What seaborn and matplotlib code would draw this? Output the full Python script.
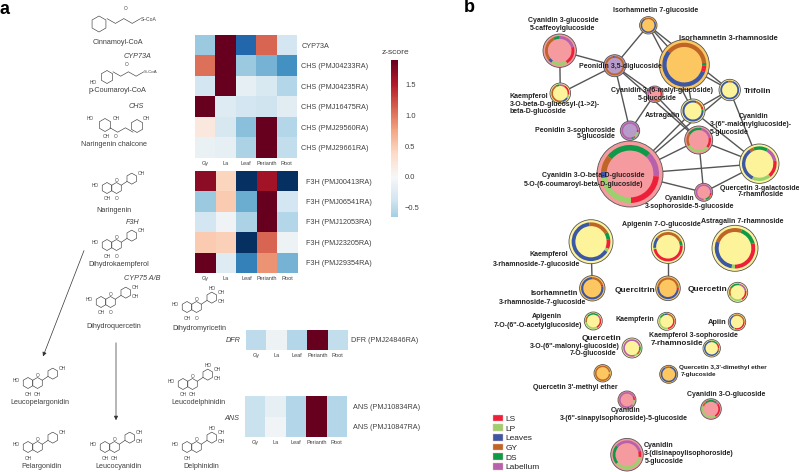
import numpy as np
import pandas as pd
import matplotlib
matplotlib.use('Agg')
import matplotlib.pyplot as plt
from matplotlib.patches import Circle, Polygon, Patch
import seaborn as sns

tissues = ['Gy', 'La', 'Leaf', 'Perianth', 'Root']

rows_top = ['CYP73A', 'CHS (PMJ04233RA)', 'CHS (PMJ04235RA)', 'CHS (PMJ16475RA)', 'CHS (PMJ29560RA)', 'CHS (PMJ29661RA)']
vals_top = [[-0.7, 1.9, -1.5, 1.1, -0.35],
            [1.05, 1.9, -0.7, -0.9, -1.15],
            [-0.35, 1.9, -0.17, -0.3, -0.55],
            [1.9, -0.25, -0.35, -0.4, -0.22],
            [0.2, -0.32, -0.8, 1.9, -0.55],
            [-0.12, -0.17, -0.6, 1.9, -0.47]]

rows_f3h = ['F3H (PMJ00413RA)', 'F3H (PMJ06541RA)', 'F3H (PMJ12053RA)', 'F3H (PMJ23205RA)', 'F3H (PMJ29354RA)']
vals_f3h = [[1.7, 0.42, -1.9, 1.6, -1.9],
            [-0.7, 0.5, -0.95, 1.9, -0.35],
            [-0.35, -0.08, -0.6, 1.9, -0.55],
            [0.5, 0.45, -1.9, 1.1, -0.1],
            [1.9, -0.25, -1.3, 0.85, -0.9]]

rows_dfr = ['DFR (PMJ24846RA)']
vals_dfr = [[-0.5, -0.1, -0.55, 1.9, -0.47]]

rows_ans = ['ANS (PMJ10834RA)', 'ANS (PMJ10847RA)']
vals_ans = [[-0.42, -0.17, -0.55, 1.9, -0.55],
            [-0.42, -0.07, -0.55, 1.9, -0.55]]

# network nodes: id, x, y, radius, fill
node_ids = ['c3g5c', 'iso7g', 'iso3r', 'peo35', 'kae3o', 'malyl', 'trif', 'astr', 'peos', 'malon', 'cbig', 'q3gal', 'csoph',
            'k3r7g', 'api7g', 'ast7r', 'i3r7g', 'qcitr', 'quer', 'apiac', 'kaem', 'apiin', 'q3o6', 'k3s7r', 'q3me', 'q33me',
            'csina', 'c3og', 'cdisi']
node_x = [559.7, 648.3, 684.3, 614.7, 560.3, 654.7, 729.7, 693, 630, 698.7, 630, 759.3, 703.7,
          591, 668, 735, 592.3, 668, 737.7, 593.3, 666.7, 737, 632, 711.7, 602.7, 668.7, 627, 711, 627]
node_y = [50.7, 25.3, 64.7, 65.7, 93.3, 94.3, 90, 111, 130.7, 140, 174, 163.7, 192.3,
          241.7, 246.7, 248.3, 288.3, 288.3, 292.3, 321, 321.3, 322, 348, 348.3, 373.3, 374.3, 400, 409, 454.7]
node_r = [16.7, 8.7, 25, 11, 10.3, 8.3, 10.7, 12, 9.7, 14, 33, 19.7, 9,
          22, 16.7, 23, 12.7, 12.3, 10, 9, 9, 8.7, 10, 8.7, 8.7, 9, 9, 10.3, 16.3]
node_fill = ['pink', 'orange', 'orange', 'purple', 'yellow', 'pink', 'yellow', 'yellow', 'purple', 'pink', 'pink', 'yellow', 'pink',
             'yellow', 'yellow', 'yellow', 'orange', 'orange', 'yellow', 'yellow', 'yellow', 'yellow', 'yellow', 'yellow', 'orange', 'orange',
             'pink', 'pink', 'pink']

# ring start (deg clockwise from top), then tissue shares
ring_start = [232, -30, -50, 0, -30, 45, -10, 20, 85, -60, -51, -35, 95,
              -5, -50, 290, 0, -80, -60, -50, -20, -30, 80, 0, 80, -30, 60, -40, -50]
ring_tissue = [['GY', 'DS', 'Labellum', 'LS', 'LP', 'Leaves'], ['GY', 'Leaves'], ['GY', 'DS', 'LS', 'Leaves'], ['GY', 'Leaves'],
               ['DS', 'Labellum', 'LS', 'LP', 'Leaves', 'GY'], ['LS', 'LP', 'GY', 'Labellum'], ['GY', 'Leaves'], ['GY', 'LS', 'DS', 'Leaves'],
               ['LS', 'LP', 'GY', 'DS', 'Labellum'], ['DS', 'Labellum', 'LS', 'LP', 'GY'], ['DS', 'Labellum', 'LS', 'LP', 'Leaves', 'GY'],
               ['GY', 'DS', 'Labellum', 'LS', 'LP', 'Leaves'], ['LS', 'GY', 'DS', 'LP', 'Labellum'],
               ['GY', 'DS', 'LS', 'LP', 'Leaves'], ['GY', 'DS', 'LS', 'LP', 'Leaves'], ['GY', 'DS', 'LS', 'LP', 'Leaves'], ['GY', 'LS', 'Leaves'],
               ['GY', 'DS', 'LS', 'Leaves'], ['DS', 'Labellum', 'LS', 'LP', 'GY'], ['DS', 'Labellum', 'LS', 'LP', 'GY'], ['Leaves', 'GY', 'LS', 'LP', 'DS'],
               ['GY', 'LS', 'LP', 'Leaves'], ['DS', 'GY', 'LP', 'Labellum'], ['DS', 'LS', 'GY', 'Leaves'], ['LP', 'GY'], ['GY', 'Leaves'],
               ['LS', 'LP', 'Labellum'], ['DS', 'Labellum', 'LS', 'LP', 'GY'], ['Labellum', 'LS', 'LP', 'DS']]
ring_share = [[103, 25, 75, 75, 65, 17], [90, 270], [135, 8, 17, 200], [350, 10],
              [25, 35, 70, 25, 40, 165], [70, 30, 40, 220], [30, 330], [45, 15, 10, 290],
              [15, 40, 15, 15, 275], [75, 65, 50, 110, 60], [95, 51, 83, 84, 13, 34],
              [15, 50, 50, 60, 65, 120], [20, 15, 35, 15, 275],
              [65, 22, 30, 10, 233], [115, 20, 175, 5, 45], [90, 55, 105, 10, 100], [70, 10, 280],
              [160, 5, 15, 180], [70, 70, 70, 95, 55], [90, 30, 80, 110, 50], [30, 60, 100, 130, 40],
              [120, 110, 10, 120], [30, 30, 20, 280], [50, 40, 20, 250], [15, 345], [40, 320],
              [30, 40, 290], [80, 15, 95, 140, 30], [125, 25, 130, 80]]

edges = [('c3g5c', 'peo35'), ('c3g5c', 'kae3o'), ('kae3o', 'peo35'), ('peo35', 'iso7g'), ('iso7g', 'iso3r'),
         ('iso7g', 'trif'), ('iso7g', 'astr'), ('peo35', 'malyl'), ('peo35', 'peos'), ('peo35', 'malon'),
         ('iso3r', 'trif'), ('iso3r', 'astr'), ('malyl', 'peos'), ('malyl', 'malon'), ('astr', 'trif'), ('astr', 'cbig'),
         ('trif', 'cbig'), ('astr', 'q3gal'), ('trif', 'q3gal'), ('malon', 'cbig'), ('malon', 'q3gal'), ('malon', 'csoph'),
         ('cbig', 'q3gal'), ('cbig', 'csoph'), ('csoph', 'q3gal'), ('k3r7g', 'i3r7g'), ('api7g', 'qcitr')]

legend_names = ['LS', 'LP', 'Leaves', 'GY', 'DS', 'Labellum']
legend_colors = ['#EE2039', '#9BD16C', '#3D57A7', '#BF6526', '#0E9A48', '#B760AC']
fill_colors = {'pink': '#F59A9E', 'yellow': '#FDF39B', 'orange': '#FCC660', 'purple': '#B79BCB'}

net_labels = [('Isorhamnetin 7-glucoside', 656, 10, 5), ('Cyanidin 3-glucoside', 563, 20, 5), ('5-caffeoylglucoside', 563, 28, 5),
              ('Isorhamnetin 3-rhamnoside', 728, 38.7, 5.45), ('Peonidin 3,5-diglucoside', 620.7, 66, 5),
              ('Cyanidin 3-(6-malyl-glucoside)', 661.7, 90.7, 5), ('5-glucoside', 657, 99, 5),
              ('Kaempferol', 528.7, 96.7, 5), ('3-O-beta-D-glucosyl-(1->2)-', 555, 104, 5), ('beta-D-glucoside', 538, 111.3, 5),
              ('Trifolin', 757.7, 91.3, 5.9), ('Astragalin', 662.3, 115.3, 5.2), ('Cyanidin', 754, 116, 5),
              ("3-(6''-malonylglucoside)-", 750.7, 124.3, 5), ('5-glucoside', 729.3, 132.7, 5),
              ('Peonidin 3-sophoroside', 575.3, 130.3, 5), ('5-glucoside', 596.3, 136.7, 5),
              ('Cyanidin 3-O-beta-D-glucoside', 593, 175.3, 5), ('5-O-(6-coumaroyl-beta-D-glucoside)', 583.7, 184.3, 5),
              ('Quercetin 3-galactoside', 759.3, 188, 5), ('7-rhamnoside', 761, 194.7, 5), ('Cyanidin', 680, 198.7, 5),
              ('3-sophoroside-5-glucoside', 689.3, 207, 5), ('Apigenin 7-O-glucoside', 661, 225, 5), ('Astragalin 7-rhamnoside', 742.3, 221.3, 5),
              ('Kaempferol', 549, 255, 5), ('3-rhamnoside-7-glucoside', 536.7, 264.3, 5), ('Isorhamnetin', 553.7, 293.7, 5.4),
              ('3-rhamnoside-7-glucoside', 542.3, 302.3, 5), ('Quercitrin', 635, 290, 6), ('Quercetin', 707.3, 289.3, 6),
              ('Apigenin', 546.7, 316.7, 5), ("7-O-(6''-O-acetylglucoside)", 538.3, 325.3, 5), ('Kaempferin', 635.3, 319.3, 5),
              ('Apiin', 717, 322, 5.4), ('Quercetin', 602, 338, 6), ("3-O-(6''-malonyl-glucoside)", 575, 346.7, 5), ('7-O-glucoside', 593.3, 353.3, 5),
              ('Kaempferol 3-sophoroside', 693.7, 335.7, 5), ('7-rhamnoside', 677, 343.3, 5.8),
              ("Quercetin 3,3'-dimethyl ether", 722.7, 367.7, 4.6), ('7-glucoside', 698, 374.3, 4.6),
              ("Quercetin 3'-methyl ether", 575.7, 387.7, 5), ('Cyanidin 3-O-glucoside', 725.7, 394.3, 5), ('Cyanidin', 625.7, 410.7, 5),
              ("3-(6''-sinapylsophoroside)-5-glucoside", 624, 418.3, 5), ('Cyanidin', 658.7, 445.7, 5),
              ('3-(disinapoylisophoroside)', 688.3, 453.7, 5), ('5-glucoside', 664.7, 461.3, 5)]

path_labels = [('Cinnamoyl-CoA', 118, 42, False), ('CYP73A', 138, 56, True), ('p-Coumaroyl-CoA', 117, 91, False), ('CHS', 136, 106, True),
               ('Naringenin chalcone', 114, 145, False), ('Naringenin', 114, 211, False), ('F3H', 133, 222, True), ('Dihydrokaempferol', 119, 265, False),
               ('CYP75 A/B', 142, 278, True), ('Dihydroquercetin', 114, 326, False), ('Dihydromyricetin', 199, 328, False), ('DFR', 233, 341, True),
               ('Leucopelargonidin', 40, 403, False), ('Leucodelphinidin', 198, 403, False), ('ANS', 232, 418, True), ('Pelargonidin', 42, 466, False),
               ('Leucocyanidin', 118, 466, False), ('Delphinidin', 201, 467, False)]

# flavonoid skeletons: A-ring x, y, OH count on B ring, C4 label
skel_x = [107, 107, 101, 187, 28, 183, 28, 105, 187]
skel_y = [188, 245, 302, 307, 383, 384, 447, 447, 447]
skel_oh = [1, 1, 2, 3, 1, 3, 1, 2, 3]
skel_c4 = ['O', 'O', 'O', 'O', 'OH', 'OH', '', 'OH', '']

sns.set_theme(style='white')
plt.rcParams['font.family'] = ['Liberation Sans', 'DejaVu Sans']
W, H = 799, 472
INK = '#404040'

fig = plt.figure(figsize=(W / 100, H / 100), dpi=100)
bg = fig.add_axes([0, 0, 1, 1])
bg.set_xlim(0, W)
bg.set_ylim(H, 0)
bg.axis('off')


def hexagon(x, y, r):
    ang = np.radians(np.arange(30, 390, 60))
    bg.add_patch(Polygon(np.c_[x + r * np.cos(ang), y + r * np.sin(ang)], fill=False, ec=INK, lw=0.45))


def small(x, y, s):
    bg.text(x, y, s, fontsize=3.4, color=INK, ha='center', va='center')


def flavonoid(x, y, oh, c4, r=5.5):
    hexagon(x, y, r)
    hexagon(x + 1.73 * r, y, r)
    bx, by = x + 4.5 * r, y - 1.7 * r
    hexagon(bx, by, r)
    bg.plot([x + 2.6 * r, bx - 0.87 * r], [y - 0.5 * r, by + 0.5 * r], color=INK, lw=0.45)
    small(x - 2.2 * r, y - 0.5 * r, 'HO')
    small(x, y + 2 * r, 'OH')
    small(x + 1.73 * r, y - 1.3 * r, 'O')
    if c4:
        small(x + 1.73 * r, y + 2 * r, c4)
    small(bx + 1.7 * r, by - r, 'OH')
    if oh > 1:
        small(bx + 1.8 * r, by + 0.7 * r, 'OH')
    if oh > 2:
        small(bx, by - 1.6 * r, 'HO')


def chain(x, y, n, r):
    # zig-zag side chain going right from a ring
    xs = x + np.arange(n + 1) * r * 1.4
    ys = y + (np.arange(n + 1) % 2 - 0.5) * r * 0.8
    bg.plot(xs, ys, color=INK, lw=0.45)
    return xs[-1], ys[-1]


for x, y, oh, c4 in zip(skel_x, skel_y, skel_oh, skel_c4):
    flavonoid(x, y, oh, c4)

# CoA esters and chalcone
hexagon(99, 24, 8)
ex, ey = chain(107, 21, 4, 6)
bg.text(ex + 8, ey + 1, 'S–CoA', fontsize=3.6, color=INK, ha='center', va='center')
small(125.5, 9, 'O')
hexagon(107, 77, 6.5)
ex, ey = chain(113, 74, 4, 5.5)
bg.text(ex + 7, ey, 'S–CoA', fontsize=3.2, color=INK, ha='center', va='center')
small(93, 82, 'HO')
small(127, 65, 'O')
hexagon(105, 125, 6.5)
hexagon(137, 126, 6.5)
chain(110, 130, 3, 5.5)
for tx, ty, s in [(90, 119, 'HO'), (116, 119, 'OH'), (106, 137, 'OH'), (116, 137, 'O'), (146, 119, 'OH')]:
    small(tx, ty, s)

for s, x, y, ital in path_labels:
    bg.text(x, y, s, fontsize=5.2, color=INK, ha='center', va='center', style='italic' if ital else 'normal')

for x0, y0, x1, y1 in [(85, 248, 42, 359), (116, 340, 116, 423)]:
    bg.annotate('', xy=(x1, y1), xytext=(x0, y0),
                arrowprops=dict(arrowstyle='-|>', color='#333333', lw=0.5, mutation_scale=6))

bg.text(5, 9, 'a', fontsize=13, fontweight='bold', color='black', ha='center', va='center')
bg.text(469, 8, 'b', fontsize=13, fontweight='bold', color='black', ha='center', va='center')

# network
pos = {k: (x, y) for k, x, y in zip(node_ids, node_x, node_y)}
for a, b in edges:
    bg.plot([pos[a][0], pos[b][0]], [pos[a][1], pos[b][1]], color='#555555', lw=1.0, zorder=1)

colour_of = dict(zip(legend_names, legend_colors))
for x, y, r, fill, start, cats, share in zip(node_x, node_y, node_r, node_fill, ring_start, ring_tissue, ring_share):
    bg.add_patch(Circle((x, y), r, fc=fill_colors[fill], ec='#555555', lw=0.6, zorder=2))
    wedges, _ = bg.pie(share, colors=[colour_of[c] for c in cats], center=(x, y), radius=0.88 * r,
                       startangle=start - 90, frame=True, wedgeprops=dict(width=max(1.4, 0.17 * r), lw=0))
    for w in wedges:
        w.set_zorder(3)
bg.set_xlim(0, W)
bg.set_ylim(H, 0)

for s, x, y, size in net_labels:
    bg.text(x, y, s, fontsize=size, fontweight='bold', color='#222222', ha='center', va='center', zorder=5)

bg.legend(handles=[Patch(fc=c, ec='#F2B6B6', lw=0.3) for c in legend_colors], labels=legend_names,
          loc='center left', bbox_to_anchor=(493 / W, 1 - 443 / H), frameon=False, fontsize=6,
          labelspacing=0.18, handlelength=1.2, handleheight=0.85, handletextpad=0.3, borderpad=0, borderaxespad=0,
          labelcolor='#222222')


def heat(vals, rows, box, pad, cbar_ax=None):
    x0, y0, x1, y1 = box
    ax = fig.add_axes([x0 / W, 1 - y1 / H, (x1 - x0) / W, (y1 - y0) / H])
    df = pd.DataFrame(vals, index=rows, columns=tissues)
    sns.heatmap(df, ax=ax, cmap='RdBu_r', vmin=-1.9, vmax=1.9, xticklabels=True, yticklabels=True,
                cbar=cbar_ax is not None, cbar_ax=cbar_ax)
    ax.yaxis.tick_right()
    ax.tick_params(axis='y', length=0, pad=pad, labelsize=5.2, labelrotation=0, labelcolor=INK)
    ax.tick_params(axis='x', length=0, pad=2.5, labelsize=4, labelrotation=0, labelcolor=INK)
    ax.set_xlabel('')
    ax.set_ylabel('')
    return ax


cax = fig.add_axes([391 / W, 1 - 217 / H, 7 / W, 157 / H])
heat(vals_top, rows_top, (195, 35, 297, 158), 3, cbar_ax=cax)
cax.set_ylim(-0.65, 1.9)
cax.set_yticks([-0.5, 0, 0.5, 1.0, 1.5], ['\u22120.5', '0.0', '0.5', '1.0', '1.5'])
cax.tick_params(length=0, labelsize=5.4, pad=5, labelcolor=INK)
for sp in cax.spines.values():
    sp.set_visible(False)
bg.text(395, 53, 'z-score', fontsize=6, color=INK, ha='center', va='center')

heat(vals_f3h, rows_f3h, (195, 171, 298, 273), 5.5)
heat(vals_dfr, rows_dfr, (246, 330, 348, 350), 2.5)
heat(vals_ans, rows_ans, (245, 396, 347, 437), 4)

fig.savefig('out.png', dpi=100)
